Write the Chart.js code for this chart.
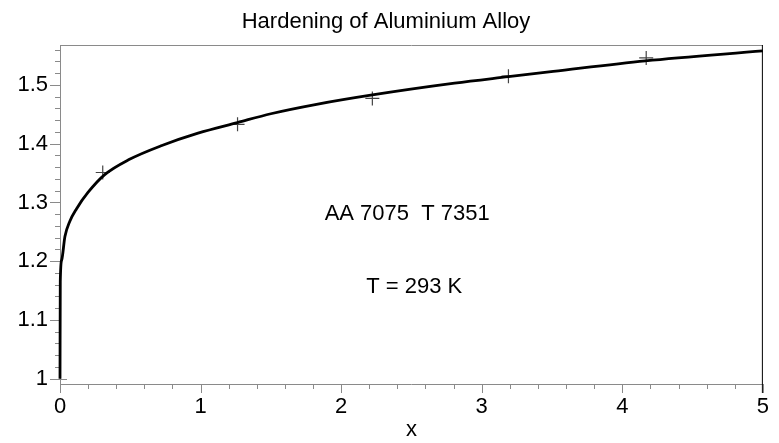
<!DOCTYPE html>
<html>
<head>
<meta charset="utf-8">
<script src="https://cdn.jsdelivr.net/npm/chart.js@4.4.1/dist/chart.umd.min.js"></script>
<style>
  html, body { margin: 0; padding: 0; background: #fff; }
  canvas { display: block; }
</style>
</head>
<body>
<canvas id="chart" width="779" height="443"></canvas>
<script>
// fitted hardening curve
const curveX = [0, 0.002, 0.012, 0.035, 0.07, 0.117, 0.199, 0.316, 0.491, 0.725, 0.982, 1.263, 1.5, 1.825, 2.222, 2.807, 3.19, 3.509, 4.164, 5.0];
const curveY = [1.0, 1.165, 1.202, 1.242, 1.268, 1.289, 1.317, 1.347, 1.373, 1.397, 1.418, 1.436, 1.451, 1.467, 1.483, 1.503, 1.514, 1.523, 1.541, 1.558];

// measured points (crosses)
const measuredX = [0.304, 1.263, 2.222, 3.19, 4.17];
const measuredY = [1.351, 1.433, 1.477, 1.515, 1.546];

// axis ticks
const xTickValues = [0, 1, 2, 3, 4, 5];
const xTickLabels = ['0', '1', '2', '3', '4', '5'];
const yTickValues = [1, 1.1, 1.2, 1.3, 1.4, 1.5];
const yTickLabels = ['1', '1.1', '1.2', '1.3', '1.4', '1.5'];
const xMinorStep = 0.2;
const yMinorStep = 0.02;

const notes = ['AA 7075  T 7351', 'T = 293 K'];

const FONT = '"Liberation Sans", Arial, Helvetica, sans-serif';

function buildTicks(min, max, step, majors, labels) {
  const out = [];
  const n = Math.round((max - min) / step);
  for (let i = 0; i <= n; i++) {
    const v = +(min + i * step).toFixed(4);
    const k = majors.findIndex(m => Math.abs(m - v) < 1e-6);
    out.push({ value: v, label: k >= 0 ? labels[k] : '', major: k >= 0 });
  }
  return out;
}

const frameAndTicks = {
  id: 'frameAndTicks',
  beforeDatasetsDraw(chart) {
    const ctx = chart.ctx;
    const { left, right, top, bottom } = chart.chartArea;
    const xs = chart.scales.x, ys = chart.scales.y;
    ctx.save();
    ctx.lineWidth = 1;
    ctx.strokeStyle = '#8a8a8a';
    ctx.beginPath();
    // left axis, bottom axis, top border
    ctx.moveTo(left + 0.5, top + 0.5); ctx.lineTo(left + 0.5, bottom + 0.5);
    ctx.moveTo(left, bottom + 0.5); ctx.lineTo(right, bottom + 0.5);
    ctx.moveTo(left, top + 0.5); ctx.lineTo(right, top + 0.5);
    // y ticks
    ys.ticks.forEach(t => {
      const p = Math.round(ys.getPixelForValue(t.value)) + 0.5;
      const len = t.label ? 10 : 5;
      ctx.moveTo(left - len, p);
      ctx.lineTo(t.value === 1 ? left + 7 : left, p);
    });
    // x ticks
    xs.ticks.forEach(t => {
      const p = Math.round(xs.getPixelForValue(t.value)) + 0.5;
      const len = t.label ? 9 : 5;
      ctx.moveTo(p, bottom);
      ctx.lineTo(p, bottom + len);
    });
    ctx.stroke();
    // right border
    ctx.strokeStyle = '#000';
    ctx.beginPath();
    ctx.moveTo(right - 0.5, top); ctx.lineTo(right - 0.5, bottom + 9);
    ctx.stroke();
    ctx.restore();
  },
  afterDatasetsDraw(chart) {
    const ctx = chart.ctx;
    const xs = chart.scales.x, ys = chart.scales.y;
    ctx.save();
    ctx.fillStyle = '#000';
    ctx.font = '22px ' + FONT;
    ctx.textAlign = 'center';
    ctx.textBaseline = 'middle';
    ctx.fillText(notes[0], xs.getPixelForValue(2.47), ys.getPixelForValue(1.281));
    ctx.fillText(notes[1], xs.getPixelForValue(2.52), ys.getPixelForValue(1.156));
    ctx.restore();
  }
};

new Chart(document.getElementById('chart'), {
  type: 'scatter',
  data: {
    datasets: [
      {
        label: 'fit',
        data: curveX.map((x, i) => ({ x: x, y: curveY[i] })),
        showLine: true,
        borderColor: '#000',
        borderWidth: 2.8,
        pointRadius: 0,
        cubicInterpolationMode: 'monotone',
        fill: false,
        clip: 6
      },
      {
        label: 'measured',
        data: measuredX.map((x, i) => ({ x: x, y: measuredY[i] })),
        showLine: false,
        pointStyle: 'cross',
        pointRadius: 7,
        borderColor: '#444',
        borderWidth: 1.2
      }
    ]
  },
  options: {
    responsive: false,
    animation: false,
    devicePixelRatio: 1,
    layout: { padding: { left: 0, right: 7, top: 0, bottom: 0 } },
    plugins: {
      legend: { display: false },
      tooltip: { enabled: false },
      title: {
        display: true,
        text: 'Hardening of Aluminium Alloy',
        color: '#000',
        font: { family: FONT, size: 22, weight: 'normal' },
        padding: { top: 9, bottom: 9.6 }
      }
    },
    scales: {
      x: {
        type: 'linear',
        min: 0,
        max: 5,
        grid: { display: false, drawTicks: false },
        border: { display: false },
        afterBuildTicks(scale) {
          scale.ticks = buildTicks(0, 5, xMinorStep, xTickValues, xTickLabels);
        },
        afterFit(scale) { scale.height = 59; },
        ticks: {
          autoSkip: false,
          maxRotation: 0,
          padding: 10,
          color: '#000',
          font: { family: FONT, size: 22 },
          callback(value, index, ticks) { return ticks[index].label; }
        },
        title: {
          display: true,
          text: 'x',
          color: '#000',
          font: { family: FONT, size: 22 },
          padding: { top: 0, bottom: 0 }
        }
      },
      y: {
        type: 'linear',
        min: 0.991,
        max: 1.568,
        grid: { display: false, drawTicks: false },
        border: { display: false },
        afterBuildTicks(scale) {
          scale.ticks = buildTicks(1.0, 1.56, yMinorStep, yTickValues, yTickLabels);
        },
        afterFit(scale) { scale.width = 60; },
        ticks: {
          autoSkip: false,
          padding: 12,
          color: '#000',
          font: { family: FONT, size: 22 },
          callback(value, index, ticks) { return ticks[index].label; }
        }
      }
    }
  },
  plugins: [frameAndTicks]
});
</script>
</body>
</html>
